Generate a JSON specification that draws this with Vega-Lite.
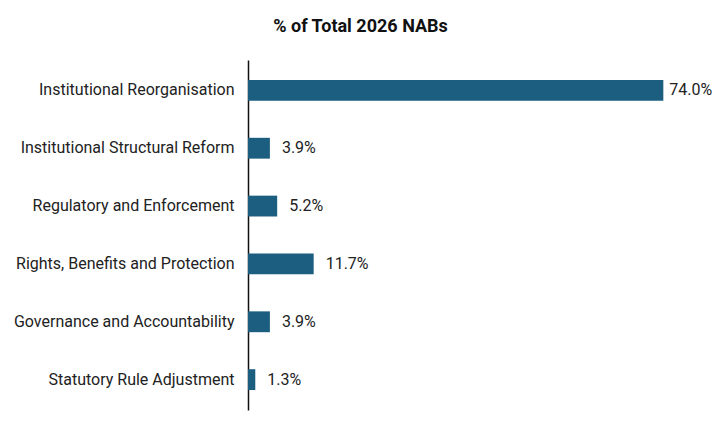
{
  "$schema": "https://vega.github.io/schema/vega-lite/v6.json",
  "width": 449,
  "height": 350,
  "autosize": {"type": "none"},
  "padding": {"left": 248, "top": 60, "right": 23, "bottom": 22},
  "background": "white",
  "config": {"view": {"stroke": null}, "font": "Roboto"},
  "title": {
    "text": "% of Total 2026 NABs",
    "anchor": "middle",
    "dx": -112,
    "offset": 24,
    "fontSize": 18,
    "fontWeight": "bold",
    "font": "Roboto",
    "color": "#111111"
  },
  "data": {
    "values": [
      {"category": "Institutional Reorganisation", "pct": 74.0},
      {"category": "Institutional Structural Reform", "pct": 3.9},
      {"category": "Regulatory and Enforcement", "pct": 5.2},
      {"category": "Rights, Benefits and Protection", "pct": 11.7},
      {"category": "Governance and Accountability", "pct": 3.9},
      {"category": "Statutory Rule Adjustment", "pct": 1.3}
    ]
  },
  "transform": [{"calculate": "format(datum.pct, '.1f') + '%'", "as": "label"}],
  "encoding": {
    "y": {
      "field": "category",
      "type": "nominal",
      "sort": null,
      "title": null,
      "scale": {"paddingInner": 0.64, "paddingOuter": 0.345},
      "axis": {
        "ticks": false,
        "grid": false,
        "domainColor": "#111111",
        "domainWidth": 1.5,
        "labelFontSize": 16,
        "labelFont": "Roboto",
        "labelColor": "#222222",
        "labelPadding": 14,
        "labelLimit": 300
      }
    },
    "x": {
      "field": "pct",
      "type": "quantitative",
      "scale": {"domain": [0, 80], "nice": false},
      "axis": null
    }
  },
  "layer": [
    {"mark": {"type": "bar", "color": "#1b5e80"}},
    {
      "transform": [{"filter": "datum.pct < 50"}],
      "mark": {"type": "text", "align": "left", "baseline": "middle", "dx": 12, "fontSize": 16, "font": "Roboto", "color": "#222222"},
      "encoding": {"text": {"field": "label"}}
    },
    {
      "transform": [{"filter": "datum.pct >= 50"}],
      "mark": {"type": "text", "align": "left", "baseline": "middle", "dx": 6, "fontSize": 16, "font": "Roboto", "color": "#222222"},
      "encoding": {"text": {"field": "label"}}
    }
  ]
}
